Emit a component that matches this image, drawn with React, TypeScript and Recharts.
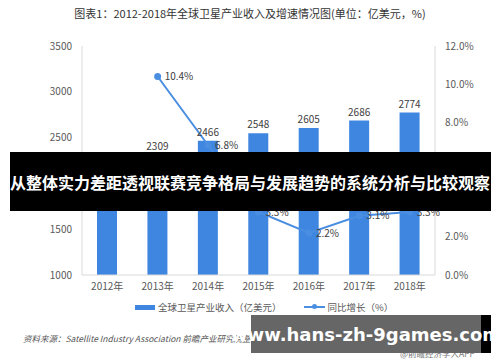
import { ComposedChart, Bar, Line, XAxis, YAxis, LabelList } from 'recharts';

const years = ['2012年', '2013年', '2014年', '2015年', '2016年', '2017年', '2018年'];
const revenue = [2092, 2309, 2466, 2548, 2605, 2686, 2774];
const growth = [null, 10.4, 6.8, 3.3, 2.2, 3.1, 3.3];
const leftTicks = [1000, 1500, 2000, 2500, 3000, 3500];
const rightTicks = [0, 2, 4, 6, 8, 10, 12];

const data = years.map((name, i) => ({ name, revenue: revenue[i], growth: growth[i] }));

const FONT = '"Noto Sans CJK SC", "Noto Sans", sans-serif';
const BAR = '#3f86e0';
const LINE = '#4a8ee2';
const TICK = { fontSize: 10, fill: '#595959', fontFamily: FONT };

export default function App() {
  return (
    <div style={{ position: 'absolute', left: 0, top: 0, width: 500, height: 362, background: '#fff', fontFamily: FONT, overflow: 'hidden' }}>
      <div style={{ position: 'absolute', top: 5, left: 0, width: 500, textAlign: 'center', fontSize: 11, color: '#333' }}>
        图表1：2012-2018年全球卫星产业收入及增速情况图(单位：亿美元，%)
      </div>

      <div style={{ position: 'absolute', top: 0, left: 0 }}>
        <ComposedChart width={500} height={300} data={data} margin={{ top: 46, right: 0, bottom: 0, left: 0 }}>
          <XAxis dataKey="name" height={25} tick={TICK} tickLine={false} tickSize={0} tickMargin={8} stroke="#d9d9d9" />
          <YAxis yAxisId="left" width={82} domain={[1000, 3500]} ticks={leftTicks} tick={TICK} tickLine={false} tickSize={0} tickMargin={10} stroke="#d9d9d9" allowDataOverflow />
          <YAxis yAxisId="right" orientation="right" width={65} domain={[0, 12]} ticks={rightTicks} tick={TICK} tickLine={false} tickSize={0} tickMargin={10} stroke="#d9d9d9" tickFormatter={(v) => `${v.toFixed(1)}%`} />
          <Bar yAxisId="left" dataKey="revenue" fill={BAR} barSize={20} isAnimationActive={false}>
            <LabelList dataKey="revenue" position="top" offset={5} style={{ fontSize: 10, fill: '#404040', fontFamily: FONT }} />
          </Bar>
          <Line yAxisId="right" dataKey="growth" stroke={LINE} strokeWidth={2} dot={{ r: 2.5, fill: LINE, stroke: LINE }} isAnimationActive={false}>
            <LabelList dataKey="growth" position="right" offset={7} formatter={(v: any) => (v == null ? '' : `${v}%`)} style={{ fontSize: 10, fill: '#404040', fontFamily: FONT }} />
          </Line>
        </ComposedChart>
      </div>

      {/* legend */}
      <div style={{ position: 'absolute', top: 300, left: 135, display: 'flex', alignItems: 'center', fontSize: 9.5, color: '#595959' }}>
        <span style={{ display: 'inline-block', width: 20, height: 5, background: BAR, marginRight: 3 }} />
        <span>全球卫星产业收入（亿美元）</span>
        <span style={{ position: 'relative', display: 'inline-block', width: 21, height: 2, background: LINE, marginLeft: 22, marginRight: 3 }}>
          <span style={{ position: 'absolute', left: 8, top: -2, width: 5, height: 5, borderRadius: 3, background: LINE }} />
        </span>
        <span>同比增长（%）</span>
      </div>

      <div style={{ position: 'absolute', top: 332, left: 23, fontSize: 8.5, color: '#555', fontStyle: 'italic' }}>
        资料来源：Satellite Industry Association 前瞻产业研究院整理
      </div>
      <div style={{ position: 'absolute', top: 347, left: 400, fontSize: 8.5, color: '#777' }}>@前瞻经济学人APP</div>

      {/* banner overlay */}
      <div style={{ position: 'absolute', top: 152, left: 10, width: 481, height: 59, background: '#000' }} />
      <div style={{ position: 'absolute', top: 152, left: 17, width: 465, height: 59, background: 'rgba(0,0,0,0.6)' }} />
      <div style={{ position: 'absolute', top: 152, left: 0, width: 500, height: 59, display: 'flex', alignItems: 'center', justifyContent: 'center', color: '#fff', fontWeight: 'bold', fontSize: 16, whiteSpace: 'nowrap' }}>
        从整体实力差距透视联赛竞争格局与发展趋势的系统分析与比较观察
      </div>

      {/* site overlay */}
      <div style={{ position: 'absolute', top: 315, left: 251, width: 240, height: 38, background: '#000' }} />
      <div style={{ position: 'absolute', top: 315, left: 251, width: 230, height: 38, background: '#666' }} />
      <div style={{ position: 'absolute', top: 315, left: 251, width: 230, height: 38, display: 'flex', alignItems: 'center', justifyContent: 'center', color: '#fff', fontWeight: 'bold', fontSize: 18, fontFamily: '"DejaVu Sans", sans-serif', whiteSpace: 'nowrap' }}>
        www.hans-zh-9games.com
      </div>
    </div>
  );
}
